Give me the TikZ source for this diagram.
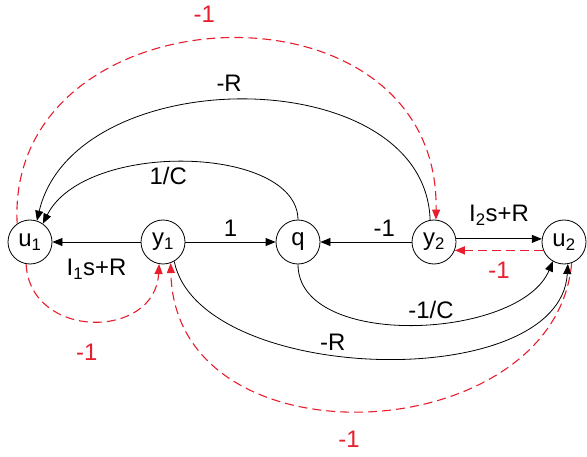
\documentclass[tikz,border=0pt]{standalone}
\usepackage{fontspec}
\setmainfont{Liberation Sans}
\usetikzlibrary{arrows.meta}
\definecolor{fbred}{RGB}{230,30,45}

\begin{document}
\begin{tikzpicture}[x=1bp, y=-1bp,
    every node/.style={font=\fontsize{24}{28}\selectfont},
    sig/.style={circle, draw, line width=0.8bp, minimum size=44bp, inner sep=0pt},
    arrow/.style={-{Triangle[length=10bp, width=8bp]}, line width=0.8bp},
    fbarrow/.style={arrow, fbred, line width=1.1bp, dash pattern=on 9bp off 5bp},
    edgelabel/.style={inner sep=2bp},
    fblabel/.style={edgelabel, text=fbred}
]
\useasboundingbox (0,0) rectangle (587,457);

% Signal nodes
\node[sig] (u1) at (30,242) {u\textsubscript{1}};
\node[sig] (y1) at (163,242) {y\textsubscript{1}};
\node[sig] (q) at (298,242) {q};
\node[sig] (y2) at (434,242) {y\textsubscript{2}};
\node[sig] (u2) at (564,242) {u\textsubscript{2}};

% Straight branches
\draw[arrow] (y1) -- node[edgelabel, below=15bp] {I\textsubscript{1}s+R} (u1);
\draw[arrow] (y1) -- node[edgelabel, above=3bp] {1} (q);
\draw[arrow] (y2) -- node[edgelabel, pos=0.3, above=3bp] {-1} (q);
\draw[arrow] (y2.8) -- node[edgelabel, above=11bp] {I\textsubscript{2}s+R} (u2.172);
\draw[fbarrow] (u2.202) -- node[fblabel, below=9bp] {-1} (y2.-22);

% Upper arcs back to u1
\draw[arrow] (q.north) .. controls (297,145) and (85,140)
   .. node[edgelabel, pos=0.55, below=2bp] {1/C} (u1.55);
\draw[arrow] (y2.100) .. controls (425,60) and (75,60)
   .. node[edgelabel, pos=0.53, above=7bp] {-R} (u1.72);
\draw[fbarrow] (u1.125) .. controls (5,-12) and (440,-32)
   .. node[fblabel, pos=0.47, above=15bp] {-1} (y2.85);

% Lower arcs
\draw[arrow] (q.south) .. controls (298,350) and (520,340)
   .. node[edgelabel, pos=0.55, above=2bp] {-1/C} (u2.240);
\draw[arrow] (y1.-60) .. controls (200,385) and (560,395)
   .. node[edgelabel, pos=0.42, above=2bp] {-R} (u2.-80);
\draw[fbarrow] (u2.-70) .. controls (555,450) and (175,470)
   .. node[fblabel, pos=0.53, below=18bp] {-1} (y1.-70);
\draw[fbarrow] (u1.-100) .. controls (30,340) and (155,340)
   .. node[fblabel, pos=0.47, below=21bp] {-1} (y1.-100);
\end{tikzpicture}
\end{document}
